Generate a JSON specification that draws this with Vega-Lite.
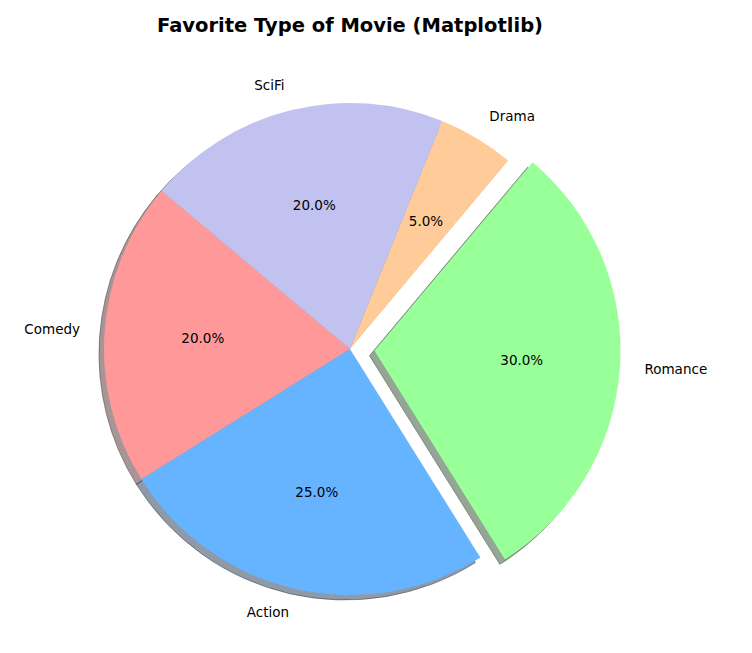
{
  "$schema": "https://vega.github.io/schema/vega-lite/v6.json",
  "width": 700,
  "height": 600,
  "autosize": {"type": "none"},
  "padding": {"left": 0, "top": 49, "right": 52, "bottom": 4},
  "background": "white",
  "config": {"view": {"stroke": null}},
  "title": {
    "text": "Favorite Type of Movie (Matplotlib)",
    "font": "DejaVu Sans",
    "fontSize": 19.5,
    "fontWeight": "bold",
    "color": "black",
    "anchor": "middle",
    "offset": 13
  },
  "data": {
    "values": [
      {"type": "Comedy", "share": 0.20, "idx": 0},
      {"type": "Action", "share": 0.25, "idx": 1},
      {"type": "Romance", "share": 0.30, "idx": 2},
      {"type": "Drama", "share": 0.05, "idx": 3},
      {"type": "SciFi", "share": 0.20, "idx": 4}
    ]
  },
  "encoding": {
    "theta": {"field": "share", "type": "quantitative", "stack": true, "scale": {"range": [-0.87266, 5.41052]}},
    "order": {"field": "idx", "sort": "descending"}
  },
  "layer": [
    {
      "mark": {"type": "arc", "outerRadius": 246, "xOffset": -5, "yOffset": 5, "fillOpacity": 0.5, "strokeOpacity": 0.5, "strokeWidth": 1},
      "encoding": {
        "fill": {"field": "type", "type": "nominal", "legend": null, "scale": {"domain": ["Comedy", "Action", "Romance", "Drama", "SciFi"], "range": ["#4d2e2e", "#1f364d", "#2e4d2e", "#4d3d2e", "#3a3a48"]}},
        "stroke": {"field": "type", "type": "nominal", "legend": null, "scale": {"domain": ["Comedy", "Action", "Romance", "Drama", "SciFi"], "range": ["#4d2e2e", "#1f364d", "#2e4d2e", "#4d3d2e", "#3a3a48"]}},
        "opacity": {"condition": {"test": "datum.type === 'Romance'", "value": 0}, "value": 1}
      }
    },
    {
      "mark": {"type": "arc", "outerRadius": 246, "xOffset": 19.5, "yOffset": 6.7, "fillOpacity": 0.5, "strokeOpacity": 0.5, "strokeWidth": 1},
      "encoding": {
        "fill": {"field": "type", "type": "nominal", "legend": null},
        "stroke": {"field": "type", "type": "nominal", "legend": null},
        "opacity": {"condition": {"test": "datum.type === 'Romance'", "value": 1}, "value": 0}
      }
    },
    {
      "mark": {"type": "arc", "outerRadius": 246},
      "encoding": {
        "color": {"field": "type", "type": "nominal", "legend": null, "scale": {"domain": ["Comedy", "Action", "Romance", "Drama", "SciFi"], "range": ["#ff9999", "#66b3ff", "#99ff99", "#ffcc99", "#c2c2f0"]}},
        "opacity": {"condition": {"test": "datum.type === 'Romance'", "value": 0}, "value": 1}
      }
    },
    {
      "mark": {"type": "arc", "outerRadius": 246, "xOffset": 24.5, "yOffset": 1.7},
      "encoding": {
        "color": {"field": "type", "type": "nominal", "legend": null},
        "opacity": {"condition": {"test": "datum.type === 'Romance'", "value": 1}, "value": 0}
      }
    },
    {
      "mark": {"type": "text", "radius": 270.6, "align": "right", "baseline": "middle", "font": "DejaVu Sans", "fontSize": 13.5, "color": "black"},
      "encoding": {
        "text": {"condition": {"test": "datum.type === 'Comedy' || datum.type === 'Action' || datum.type === 'SciFi'", "field": "type"}, "value": ""}
      }
    },
    {
      "mark": {"type": "text", "radius": 270.6, "align": "left", "baseline": "middle", "font": "DejaVu Sans", "fontSize": 13.5, "color": "black"},
      "encoding": {
        "text": {"condition": {"test": "datum.type === 'Drama'", "field": "type"}, "value": ""}
      }
    },
    {
      "mark": {"type": "text", "radius": 270.6, "align": "left", "baseline": "middle", "font": "DejaVu Sans", "fontSize": 13.5, "color": "black", "xOffset": 24.5, "yOffset": 1.7},
      "encoding": {
        "text": {"condition": {"test": "datum.type === 'Romance'", "field": "type"}, "value": ""}
      }
    },
    {
      "mark": {"type": "text", "radius": 147.6, "align": "center", "baseline": "middle", "font": "DejaVu Sans", "fontSize": 13.5, "color": "black"},
      "encoding": {
        "text": {"field": "share", "type": "quantitative", "format": ".1%"},
        "opacity": {"condition": {"test": "datum.type === 'Romance'", "value": 0}, "value": 1}
      }
    },
    {
      "mark": {"type": "text", "radius": 147.6, "align": "center", "baseline": "middle", "font": "DejaVu Sans", "fontSize": 13.5, "color": "black", "xOffset": 24.5, "yOffset": 1.7},
      "encoding": {
        "text": {"field": "share", "type": "quantitative", "format": ".1%"},
        "opacity": {"condition": {"test": "datum.type === 'Romance'", "value": 1}, "value": 0}
      }
    }
  ]
}
